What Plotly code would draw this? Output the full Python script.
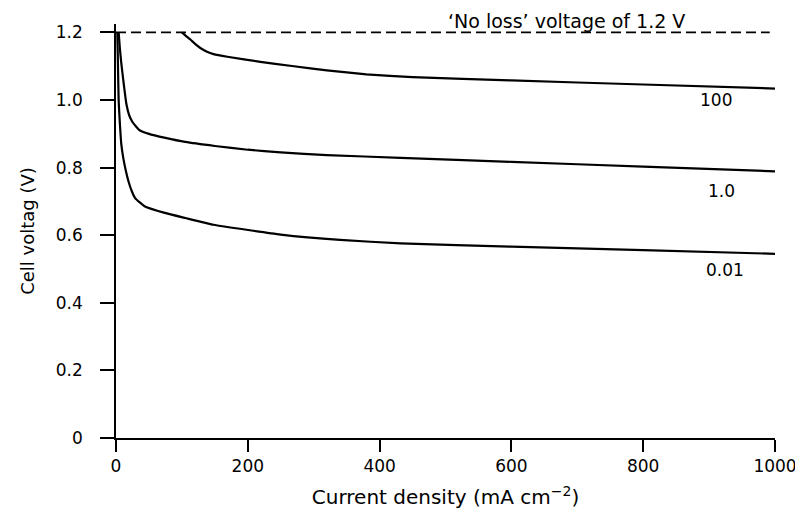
import plotly.graph_objects as go

# ---- data ----
x_100 = [100, 106, 113, 120, 128, 138, 148, 169, 219, 270, 320, 380, 450, 600, 800, 1000]
v_100 = [1.2, 1.19, 1.179, 1.166, 1.154, 1.143, 1.136, 1.128, 1.113, 1.100, 1.088, 1.076, 1.068, 1.058, 1.046, 1.034]

x_1 = [4, 6, 8, 11, 16, 20, 25, 35, 50, 75, 105, 150, 200, 250, 320, 432, 600, 800, 1000]
v_1 = [1.2, 1.15, 1.11, 1.06, 0.986, 0.955, 0.935, 0.912, 0.900, 0.888, 0.876, 0.864, 0.853, 0.845, 0.837, 0.829, 0.817, 0.803, 0.789]

x_001 = [2, 3, 4, 5, 6, 8, 11, 15, 19, 24, 29, 44, 74, 105, 148, 250, 340, 432, 600, 800, 1000]
v_001 = [1.2, 1.1, 1.0, 0.96, 0.927, 0.87, 0.829, 0.79, 0.759, 0.73, 0.71, 0.685, 0.666, 0.651, 0.631, 0.602, 0.586, 0.576, 0.566, 0.556, 0.545]

x_noloss = [0, 992]
v_noloss = [1.2, 1.2]

curve_labels = ["100", "1.0", "0.01"]
label_x = [911, 919, 924]
label_y = [1.001, 0.730, 0.498]

x_ticks = [0, 200, 400, 600, 800, 1000]
y_ticks = [0, 0.2, 0.4, 0.6, 0.8, 1.0, 1.2]
y_ticktext = ["0", "0.2", "0.4", "0.6", "0.8", "1.0", "1.2"]

FONT = "DejaVu Sans"

fig = go.Figure()
for xs, ys, name in [(x_100, v_100, "100"), (x_1, v_1, "1.0"), (x_001, v_001, "0.01")]:
    fig.add_trace(go.Scatter(x=xs, y=ys, mode="lines", name=name,
                             line=dict(shape="spline", smoothing=0.4, color="black", width=2.2),
                             showlegend=False))
fig.add_trace(go.Scatter(x=x_noloss, y=v_noloss, mode="lines", name="No loss",
                         line=dict(color="black", width=1.8, dash="10px,5px"),
                         showlegend=False))

for t, lx, ly in zip(curve_labels, label_x, label_y):
    fig.add_annotation(x=lx, y=ly, text=t, showarrow=False,
                       font=dict(family=FONT, size=17, color="black"),
                       xanchor="center", yanchor="middle")

fig.add_annotation(x=684, xref="x", y=1.0065, yref="paper",
                   text="‘No loss’ voltage of 1.2 V", showarrow=False,
                   font=dict(family=FONT, size=19, color="black"),
                   xanchor="center", yanchor="middle")

fig.update_layout(
    width=795, height=501,
    margin=dict(l=108, r=28, t=16, b=71, autoexpand=False),
    paper_bgcolor="white", plot_bgcolor="white",
    font=dict(family=FONT, size=17, color="black"),
    xaxis=dict(range=[0, 1000], tickvals=x_ticks, ticks="outside", ticklen=12,
               tickwidth=1.5, tickcolor="black", showline=True, linecolor="black",
               linewidth=1.5, showgrid=False, zeroline=False, automargin=False,
               ticklabeloverflow="allow",
               title=dict(text="Current density (mA cm<sup>−2</sup>)",
                          font=dict(family=FONT, size=20), standoff=15)),
    yaxis=dict(range=[0, 1.225], tickvals=y_ticks, ticktext=y_ticktext, ticks="outside",
               ticklen=14, tickwidth=1.5, tickcolor="black", showline=True,
               linecolor="black", linewidth=1.5, showgrid=False, zeroline=False,
               automargin=False, ticklabelstandoff=14,
               title=dict(text="Cell voltag (V)", font=dict(family=FONT, size=18),
                          standoff=17)),
)

fig.write_html("out.html")
